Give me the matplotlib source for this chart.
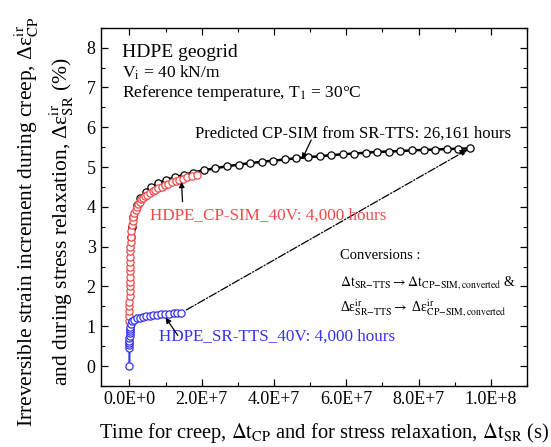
import matplotlib
matplotlib.use('Agg')
import matplotlib.pyplot as plt
from matplotlib.ticker import MultipleLocator, FuncFormatter

plt.rcParams['font.family'] = ['Liberation Serif', 'DejaVu Serif']
plt.rcParams['mathtext.fontset'] = 'stix'

# time in 1e6 s, strain increment in %
t_pred = [0.3, 0.6, 1, 2, 3, 4.5, 6, 8, 10, 12.5, 15, 17.5, 20.6, 23.8, 27, 30.2,
          33.4, 36.6, 39.8, 43, 46.2, 49.4, 52.6, 55.8, 59, 62.2, 65.4, 68.6,
          71.8, 75, 78.2, 81.4, 84.6, 87.8, 91, 94.2]
e_pred = [3.25, 3.5, 3.75, 4.05, 4.22, 4.38, 4.5, 4.6, 4.67, 4.74, 4.8, 4.86,
          4.92, 4.97, 5.02, 5.06, 5.1, 5.13, 5.16, 5.19, 5.22, 5.25, 5.27, 5.3,
          5.32, 5.34, 5.36, 5.38, 5.39, 5.4, 5.42, 5.43, 5.44, 5.45, 5.46, 5.47]

t_cp = [0, 0.005, 0.01, 0.015, 0.02, 0.03, 0.04, 0.05, 0.06, 0.08, 0.1, 0.12,
        0.15, 0.18, 0.22, 0.27, 0.33, 0.4, 0.5, 0.7, 0.9, 1.1, 1.4, 1.7, 2.0,
        2.4, 2.8, 3.3, 3.8, 4.4, 5.0, 5.7, 6.4, 7.2, 8.0, 8.9, 9.8, 10.8, 11.8,
        12.8, 13.8, 14.9, 16.0, 17.2, 18.7]
e_cp = [1.12, 1.25, 1.38, 1.5, 1.62, 1.75, 1.88, 2.0, 2.12, 2.25, 2.38, 2.5,
        2.62, 2.75, 2.88, 3.0, 3.12, 3.25, 3.4, 3.55, 3.65, 3.75, 3.85, 3.93,
        4.0, 4.07, 4.13, 4.19, 4.23, 4.27, 4.31, 4.35, 4.39, 4.43, 4.47, 4.51,
        4.55, 4.58, 4.62, 4.65, 4.68, 4.71, 4.74, 4.77, 4.8]

t_sr = [0, 0.001, 0.003, 0.006, 0.01, 0.02, 0.03, 0.05, 0.07, 0.1, 0.15, 0.3,
        0.7, 1.2, 2.0, 2.8, 3.7, 4.6, 5.6, 6.6, 7.6, 8.7, 9.8, 11.0, 12.2,
        13.3, 14.4]
e_sr = [0, 0.45, 0.52, 0.58, 0.64, 0.7, 0.76, 0.82, 0.88, 0.93, 0.98, 1.05,
        1.12, 1.16, 1.2, 1.22, 1.24, 1.26, 1.27, 1.28, 1.29, 1.3, 1.31, 1.32,
        1.33, 1.335, 1.34]

red = '#ee4a4a'
blue = '#3333ee'
sc = 1e6
fig = plt.figure(figsize=(5.51, 4.47), dpi=100)
ax = fig.add_axes([0.1824, 0.1365, 0.774, 0.8015])

mk = dict(marker='o', markersize=5.2, markerfacecolor='white', markeredgewidth=0.9)
ax.plot([v * sc for v in t_pred], e_pred, color='black', lw=1.8, **mk)
ax.plot([v * sc for v in t_cp], e_cp, color=red, lw=1.2, **mk)
ax.plot([v * sc for v in t_sr], e_sr, color=blue, lw=1.5, **mk)

# conversion arrow
ax.annotate('', xy=(t_pred[-1] * sc, e_pred[-1]), xytext=(t_sr[-1] * sc, e_sr[-1]),
            arrowprops=dict(arrowstyle='-|>', color='black', lw=0.9,
                            linestyle='-.', shrinkA=4, shrinkB=2, mutation_scale=10))

ax.set_xlim(-8e6, 1.1e8)
ax.set_ylim(-0.5, 8.5)
ax.xaxis.set_major_locator(MultipleLocator(2e7))
ax.xaxis.set_minor_locator(MultipleLocator(1e7))
ax.yaxis.set_major_locator(MultipleLocator(1))
ax.yaxis.set_minor_locator(MultipleLocator(0.5))


def sci(v, pos):
    if v == 0:
        return '0.0E+0'
    s = '%.1E' % v
    m, e = s.split('E')
    return '%sE+%d' % (m, int(e))


ax.xaxis.set_major_formatter(FuncFormatter(sci))
ax.tick_params(which='both', direction='in', top=True, right=True, labelsize=13)
ax.tick_params(which='major', length=5, width=0.9)
ax.tick_params(which='minor', length=3, width=0.8)
for s in ax.spines.values():
    s.set_linewidth(1.0)

ax.set_xlabel(r'Time for creep, $\Delta \mathrm{t_{CP}}$ and for stress relaxation, $\Delta \mathrm{t_{SR}}$ (s)',
              fontsize=14.8)
ax.xaxis.set_label_coords(0.524, -0.097)
ax.set_ylabel('Irreversible strain increment during creep, Δε' + r'$^{\mathrm{ir}}_{\mathrm{CP}}$'
              + '\nand during stress relaxation, Δε' + r'$^{\mathrm{ir}}_{\mathrm{SR}}$ (%)',
              fontsize=15.5, linespacing=1.3)
ax.yaxis.set_label_coords(-0.058, 0.46)

ax.text(-2.1e6, 7.87, 'HDPE geogrid', fontsize=14, va='center')
ax.text(-2.1e6, 7.36, r'V$_\mathrm{i}$ = 40 kN/m', fontsize=12.5, va='center')
ax.text(-2.1e6, 6.87, r'Reference temperature, T$_\mathrm{1}$ = 30°C', fontsize=12.5, va='center')

ax.text(1.806e7, 5.85, 'Predicted CP-SIM from SR-TTS: 26,161 hours', fontsize=12.1, va='center')
ax.annotate('', xy=(4.78e7, 5.2), xytext=(5.03e7, 5.68),
            arrowprops=dict(arrowstyle='-|>', color='black', lw=0.9, mutation_scale=8,
                            shrinkA=0, shrinkB=0))

ax.text(5.6e6, 3.79, 'HDPE_CP-SIM_40V: 4,000 hours', fontsize=12.3, va='center', color=red)
ax.annotate('', xy=(1.44e7, 4.63), xytext=(1.47e7, 4.13),
            arrowprops=dict(arrowstyle='-|>', color='black', lw=0.9, mutation_scale=8,
                            shrinkA=0, shrinkB=0))

ax.text(8.1e6, 0.73, 'HDPE_SR-TTS_40V: 4,000 hours', fontsize=12.3, va='center', color=blue)
ax.annotate('', xy=(1.0e7, 1.22), xytext=(1.34e7, 0.77),
            arrowprops=dict(arrowstyle='-|>', color='black', lw=0.9, mutation_scale=8,
                            shrinkA=0, shrinkB=0))

ax.text(5.83e7, 2.79, 'Conversions :', fontsize=10.5, va='center')
ax.text(5.83e7, 2.11, r'$\Delta\mathrm{t_{SR{-}TTS}} \rightarrow \Delta\mathrm{t_{CP{-}SIM,converted}}$ &',
        fontsize=10, va='center')
ax.text(5.83e7, 1.45, r'Δε$^{\mathrm{ir}}_{\mathrm{SR{-}TTS}} \rightarrow$ Δε$^{\mathrm{ir}}_{\mathrm{CP{-}SIM,converted}}$',
        fontsize=10, va='center')

fig.savefig('out.png', dpi=100)
